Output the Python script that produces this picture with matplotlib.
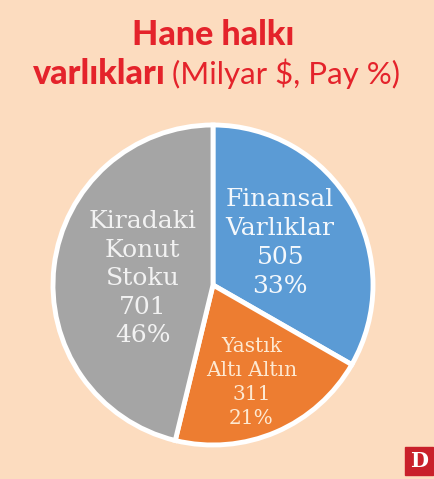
import matplotlib as mpl
import matplotlib.pyplot as plt
from matplotlib.patches import Rectangle

# data
labels = ["Finansal\nVarlıklar", "Yastık\nAltı Altın", "Kiradaki\nKonut\nStoku"]
values = [505, 311, 701]
shares = [33, 21, 46]
colors = ["#5b9bd5", "#ed7d31", "#a5a5a5"]

bg = "#fcdcbf"
red = "#e4232b"
W, H = 435, 479

fig = plt.figure(figsize=(W / 100, H / 100), dpi=100)
fig.patch.set_facecolor(bg)

# pie axes: center (213, 285) px, radius 160 px
cx, cy, r = 213, 285, 160
pad = 6
ax = fig.add_axes([(cx - r - pad) / W, (H - cy - r - pad) / H,
                   2 * (r + pad) / W, 2 * (r + pad) / H])
ax.set_facecolor(bg)
wedges, _ = ax.pie(values, colors=colors, startangle=90, counterclock=False,
                   radius=1.0, wedgeprops={'edgecolor': 'white', 'linewidth': 3.5})
lim = (r + pad) / r
ax.set_xlim(-lim, lim)
ax.set_ylim(-lim, lim)
ax.set_aspect('equal')
ax.axis('off')

# label positions in axes units (relative to radius)
label_pos = [(0.42, 0.26), (0.24, -0.61), (-0.44, 0.04)]
label_size = [18, 14.5, 18]
label_color = ["#f4f8fc", "#fde9d2", "#f2f2f2"]
label_lsp = [1.33, 1.35, 1.3]
for lab, v, s, (x, y), fs, c, lsp in zip(labels, values, shares, label_pos,
                                        label_size, label_color, label_lsp):
    ax.text(x, y, f"{lab}\n{v}\n{s}%", ha='center', va='center',
            fontsize=fs, color=c, family='DejaVu Serif', linespacing=lsp)

# title
fig.text(213 / W, 1 - 45 / H, "Hane halkı", ha='center', va='baseline',
         fontsize=24.5, fontweight='black', color=red, family='Lato')
fig.text(166 / W, 1 - 84 / H, "varlıkları", ha='right', va='baseline',
         fontsize=24.5, fontweight='black', color=red, family='Lato')
fig.text(172 / W, 1 - 84 / H, "(Milyar $, Pay %)", ha='left', va='baseline',
         fontsize=22.5, color=red, family='Lato')

# logo
fig.patches.append(Rectangle((405 / W, 1 - 475 / H), 28 / W, 28 / H,
                             transform=fig.transFigure, color="#c9202a"))
fig.text(419 / W, 1 - 461 / H, "D", ha='center', va='center', fontsize=15,
         fontweight='bold', color='white', family='DejaVu Serif')

fig.savefig("out.png", dpi=100, facecolor=bg)
